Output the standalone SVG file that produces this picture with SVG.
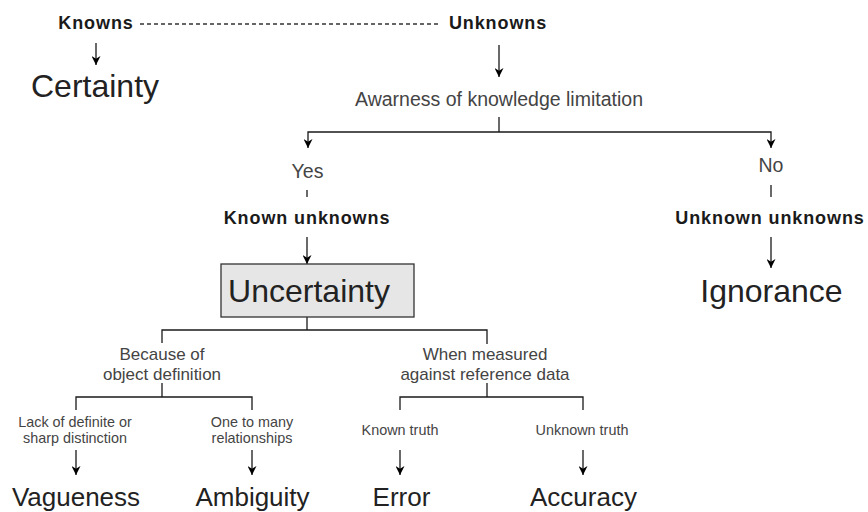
<svg xmlns="http://www.w3.org/2000/svg" width="868" height="512" viewBox="0 0 868 512">
<style>
text{font-family:"Liberation Sans",Arial,Helvetica,sans-serif;text-anchor:middle}
.b{font-weight:bold;font-size:18px;letter-spacing:0.9px;fill:#1a1a1a}
.m{font-size:19.5px;fill:#444}
.r{font-size:17px;fill:#444}
.s{font-size:14.4px;fill:#444}
.big{font-size:32px;fill:#222}
.mid{font-size:26px;fill:#222}
.ln{fill:none;stroke:#1a1a1a;stroke-width:1.3}
.ar{marker-end:url(#ah)}
.dash{stroke-dasharray:4 3;stroke:#333}
</style>
<defs>
<marker id="ah" viewBox="0 0 10 10" refX="10" refY="5" markerWidth="9" markerHeight="9" markerUnits="userSpaceOnUse" orient="auto">
<path d="M0,0 L10,5 L0,10 L3,5 z" fill="#000"/>
</marker>
</defs>
<rect width="868" height="512" fill="#fff"/>
<g id="connectors">
<line class="ln dash" x1="140" y1="24" x2="440" y2="24"/>
<line class="ln ar" x1="96" y1="43" x2="96" y2="65"/>
<line class="ln ar" x1="499" y1="45" x2="499" y2="77"/>
<line class="ln" x1="499" y1="117" x2="499" y2="132"/>
<polyline class="ln ar" points="499,132 308,132 308,148"/>
<polyline class="ln ar" points="499,132 771,132 771,148"/>
<line class="ln" x1="307" y1="190" x2="307" y2="197"/>
<line class="ln" x1="771" y1="185" x2="771" y2="197"/>
<line class="ln ar" x1="307" y1="237" x2="307" y2="264"/>
<line class="ln ar" x1="771" y1="237" x2="771" y2="268"/>
<line class="ln" x1="307" y1="317" x2="307" y2="330"/>
<polyline class="ln" points="162,343 162,330 487,330 487,344"/>
<line class="ln" x1="162" y1="383" x2="162" y2="397"/>
<polyline class="ln" points="76,410 76,397 252,397 252,410"/>
<line class="ln" x1="487" y1="383" x2="487" y2="397"/>
<polyline class="ln" points="400,410 400,397 583,397 583,410"/>
<line class="ln ar" x1="76" y1="450" x2="76" y2="475"/>
<line class="ln ar" x1="252" y1="450" x2="252" y2="475"/>
<line class="ln ar" x1="400" y1="450" x2="400" y2="475"/>
<line class="ln ar" x1="583" y1="450" x2="583" y2="475"/>
</g>
<g id="knowns"><text class="b" x="96" y="29">Knowns</text></g>
<g id="unknowns"><text class="b" x="498" y="29">Unknowns</text></g>
<g id="certainty"><text class="big" x="95" y="97">Certainty</text></g>
<g id="awareness"><text class="m" x="499" y="106">Awarness of knowledge limitation</text></g>
<g id="yes"><text class="m" x="307.5" y="178">Yes</text></g>
<g id="no"><text class="m" x="771" y="172">No</text></g>
<g id="known-unknowns"><text class="b" x="307" y="224">Known unknowns</text></g>
<g id="unknown-unknowns"><text class="b" x="770" y="224">Unknown unknowns</text></g>
<g id="uncertainty">
<rect x="221" y="264" width="193" height="53" fill="#e6e6e6" stroke="#333" stroke-width="1.3"/>
<text class="big" x="309" y="302">Uncertainty</text>
</g>
<g id="ignorance"><text class="big" x="771.5" y="302">Ignorance</text></g>
<g id="because"><text class="r" x="162" y="360">Because of</text><text class="r" x="162" y="380">object definition</text></g>
<g id="measured"><text class="r" x="485" y="360">When measured</text><text class="r" x="485" y="380">against reference data</text></g>
<g id="lack"><text class="s" x="75" y="426.5">Lack of definite or</text><text class="s" x="75" y="443">sharp distinction</text></g>
<g id="one-to-many"><text class="s" x="252" y="426.5">One to many</text><text class="s" x="252" y="443">relationships</text></g>
<g id="known-truth"><text class="s" x="400" y="435">Known truth</text></g>
<g id="unknown-truth"><text class="s" x="582" y="435">Unknown truth</text></g>
<g id="vagueness"><text class="mid" x="76" y="506">Vagueness</text></g>
<g id="ambiguity"><text class="mid" x="252.5" y="506">Ambiguity</text></g>
<g id="error"><text class="mid" x="401.5" y="506">Error</text></g>
<g id="accuracy"><text class="mid" x="583.5" y="506">Accuracy</text></g>
</svg>
